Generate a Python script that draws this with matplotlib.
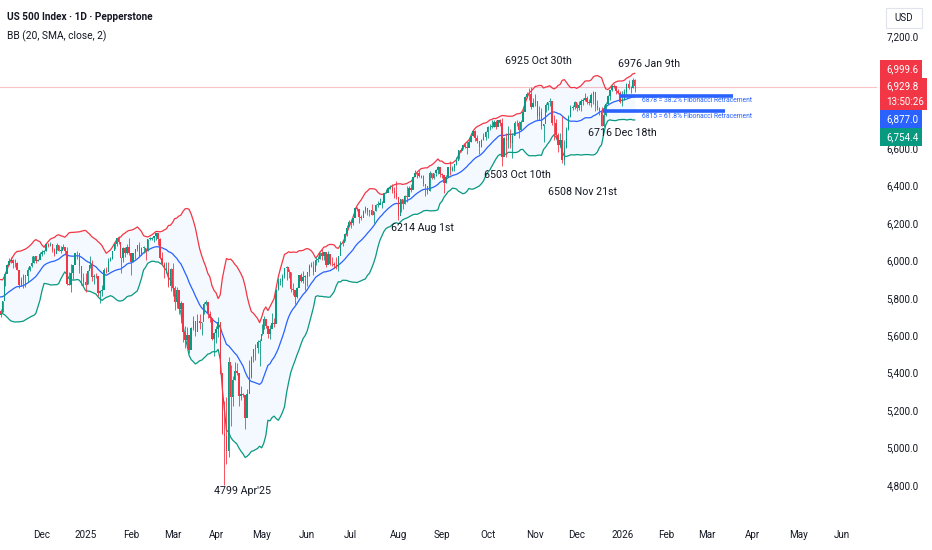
import matplotlib
matplotlib.use("Agg")
import matplotlib.pyplot as plt
from matplotlib.patches import Rectangle
import numpy as np
import pandas as pd

# closes before the first visible bar, only used to warm up the 20 day bands
warmup_close = [5696, 5751, 5792, 5780, 5815, 5859, 5815, 5842, 5841, 5864,
                5853, 5851, 5797, 5809, 5808, 5823, 5832, 5813, 5705, 5729]

# daily bars as (high, low, close), one list per month
nov24 = [(5741, 5696, 5712), (5783, 5723, 5782), (5936, 5864, 5929), (5983, 5935, 5973), (6012, 5976, 5996),
         (6018, 5986, 6001), (6009, 5960, 5984), (6009, 5966, 5985), (5993, 5946, 5949), (5929, 5854, 5870),
         (5909, 5865, 5894), (5925, 5850, 5917), (5921, 5860, 5917), (5965, 5885, 5949), (5972, 5942, 5969),
         (6021, 5963, 5987), (6025, 5985, 6021), (6020, 5984, 5999), (6010, 5995, 6003), (6044, 6008, 6032)]
dec24 = [(6053, 6022, 6047), (6055, 6033, 6050), (6087, 6049, 6087), (6093, 6072, 6075), (6100, 6076, 6090),
         (6089, 6045, 6053), (6066, 6024, 6034), (6092, 6053, 6084), (6080, 6050, 6051), (6079, 6038, 6051),
         (6085, 6059, 6074), (6057, 6036, 6051), (6071, 5867, 5872), (5936, 5866, 5867), (5982, 5832, 5931),
         (5978, 5903, 5974), (6040, 5983, 6040), (6049, 6007, 6037), (6006, 5932, 5971),
         (5941, 5869, 5907), (5930, 5865, 5882)]
jan25 = [(5935, 5829, 5869), (5950, 5876, 5942),
         (6021, 5960, 5975), (6000, 5890, 5909), (5927, 5874, 5918), (5930, 5905, 5915), (5900, 5809, 5827),
         (5839, 5773, 5836), (5871, 5807, 5843), (5960, 5880, 5950), (5965, 5930, 5937), (6014, 5978, 5997),
         (6020, 5995, 6010), (6051, 6007, 6049), (6100, 6062, 6086), (6119, 6075, 6119), (6128, 6088, 6101),
         (6018, 5932, 6012), (6070, 5994, 6068), (6074, 6019, 6039), (6086, 6036, 6071), (6120, 6030, 6040)]
feb25 = [(6022, 5923, 5994), (6042, 5990, 6038), (6062, 6007, 6061), (6084, 6050, 6083), (6101, 6020, 6026),
         (6073, 6045, 6066), (6076, 6042, 6068), (6064, 6003, 6052), (6116, 6051, 6115), (6127, 6107, 6115),
         (6125, 6110, 6120), (6129, 6100, 6129), (6147, 6111, 6144), (6134, 6084, 6117), (6119, 6008, 6013),
         (6044, 5977, 5983), (5993, 5908, 5955), (5993, 5932, 5956), (5994, 5858, 5861), (5959, 5837, 5955)]
mar25 = [(5987, 5809, 5850), (5865, 5733, 5778), (5860, 5743, 5843), (5812, 5711, 5739), (5783, 5667, 5770),
         (5706, 5565, 5615), (5649, 5529, 5572), (5642, 5546, 5599), (5597, 5505, 5522), (5645, 5546, 5639),
         (5703, 5626, 5675), (5660, 5598, 5615), (5715, 5622, 5675), (5712, 5633, 5663), (5670, 5603, 5668),
         (5775, 5712, 5768), (5787, 5764, 5777), (5777, 5694, 5712), (5732, 5670, 5693), (5685, 5572, 5581),
         (5615, 5488, 5612)]
apr25 = [(5650, 5558, 5633), (5695, 5590, 5671), (5501, 5392, 5397), (5292, 5069, 5074),
         (5246, 4799, 5062), (5268, 4910, 4983), (5481, 4950, 5457), (5443, 5115, 5268), (5381, 5221, 5363),
         (5459, 5358, 5406), (5450, 5387, 5397), (5368, 5220, 5276), (5329, 5255, 5283), (5290, 5270, 5280),
         (5233, 5101, 5158), (5310, 5207, 5288), (5469, 5356, 5376), (5489, 5371, 5485), (5528, 5455, 5525),
         (5554, 5468, 5529), (5572, 5506, 5561), (5581, 5434, 5569)]
may25 = [(5659, 5599, 5604), (5700, 5631, 5686),
         (5676, 5640, 5650), (5649, 5586, 5607), (5654, 5578, 5631), (5720, 5637, 5664), (5691, 5642, 5660),
         (5845, 5775, 5844), (5906, 5843, 5886), (5906, 5869, 5892), (5925, 5859, 5917), (5958, 5907, 5958),
         (5969, 5895, 5964), (5953, 5907, 5940), (5939, 5830, 5845), (5878, 5817, 5842), (5829, 5767, 5802),
         (5860, 5800, 5850), (5922, 5859, 5922), (5930, 5886, 5889), (5944, 5880, 5912), (5920, 5843, 5912)]
jun25 = [(5937, 5862, 5936), (5982, 5919, 5970), (5990, 5966, 5971), (5999, 5921, 5939), (6016, 5978, 6000),
         (6022, 5994, 6006), (6043, 6006, 6039), (6059, 6004, 6022), (6045, 6003, 6045), (6026, 5963, 5977),
         (6051, 6003, 6033), (6024, 5975, 5982), (6018, 5971, 5981), (5990, 5960, 5975), (6018, 5953, 5967),
         (6026, 5943, 6025), (6102, 6060, 6092), (6109, 6079, 6092), (6146, 6103, 6141), (6187, 6132, 6173),
         (6215, 6185, 6205)]
jul25 = [(6211, 6174, 6198), (6228, 6187, 6227), (6285, 6242, 6279), (6285, 6265, 6275),
         (6262, 6202, 6230), (6243, 6214, 6226), (6269, 6230, 6263), (6290, 6251, 6280), (6270, 6241, 6260),
         (6272, 6237, 6269), (6303, 6242, 6244), (6266, 6201, 6264), (6303, 6266, 6297), (6315, 6285, 6297),
         (6336, 6305, 6306), (6317, 6281, 6309), (6360, 6317, 6359), (6381, 6360, 6363), (6390, 6364, 6389),
         (6401, 6380, 6390), (6409, 6363, 6371), (6390, 6333, 6362), (6427, 6327, 6339)]
aug25 = [(6288, 6214, 6238),
         (6330, 6261, 6330), (6330, 6277, 6299), (6352, 6302, 6345), (6396, 6313, 6340), (6396, 6345, 6389),
         (6409, 6365, 6374), (6446, 6386, 6446), (6481, 6451, 6466), (6473, 6441, 6469), (6481, 6445, 6450),
         (6459, 6438, 6449), (6456, 6399, 6411), (6408, 6343, 6396), (6393, 6353, 6370), (6478, 6369, 6467),
         (6466, 6437, 6440), (6468, 6433, 6466), (6487, 6453, 6481), (6503, 6464, 6502), (6498, 6445, 6460)]
sep25 = [(6470, 6440, 6455), (6418, 6361, 6416), (6457, 6416, 6448), (6502, 6444, 6502), (6533, 6457, 6482),
         (6505, 6476, 6495), (6513, 6478, 6513), (6555, 6508, 6532), (6588, 6540, 6588), (6601, 6578, 6584),
         (6619, 6596, 6615), (6627, 6600, 6607), (6639, 6571, 6600), (6656, 6615, 6632), (6672, 6635, 6664),
         (6698, 6665, 6694), (6698, 6641, 6656), (6670, 6627, 6638), (6620, 6570, 6605), (6650, 6604, 6644),
         (6680, 6643, 6661), (6690, 6642, 6688)]
oct25 = [(6718, 6656, 6711), (6729, 6696, 6715), (6750, 6706, 6716),
         (6749, 6715, 6740), (6749, 6700, 6714), (6753, 6717, 6753), (6756, 6720, 6735), (6764, 6503, 6553),
         (6660, 6570, 6654), (6680, 6552, 6644), (6718, 6602, 6671), (6703, 6600, 6630), (6680, 6550, 6664),
         (6744, 6670, 6736), (6752, 6718, 6735), (6744, 6654, 6699), (6752, 6690, 6738), (6808, 6760, 6792),
         (6878, 6835, 6875), (6900, 6870, 6891), (6920, 6856, 6890), (6925, 6808, 6822), (6870, 6820, 6840)]
nov25 = [(6890, 6823, 6852), (6804, 6750, 6771), (6828, 6749, 6796), (6813, 6705, 6720), (6731, 6631, 6728),
         (6842, 6795, 6832), (6848, 6802, 6846), (6870, 6828, 6851), (6843, 6725, 6737), (6775, 6646, 6734),
         (6758, 6657, 6672), (6683, 6582, 6617), (6680, 6606, 6642), (6771, 6522, 6538), (6643, 6508, 6603),
         (6713, 6603, 6705), (6776, 6697, 6766), (6829, 6767, 6813), (6830, 6805, 6820), (6853, 6812, 6849)]
dec25 = [(6843, 6800, 6813), (6851, 6806, 6829), (6862, 6800, 6850), (6868, 6833, 6857), (6895, 6855, 6870),
         (6880, 6835, 6846), (6865, 6830, 6840), (6895, 6818, 6887), (6905, 6835, 6901), (6900, 6801, 6827),
         (6860, 6803, 6816), (6820, 6775, 6800), (6818, 6720, 6721), (6830, 6716, 6775), (6845, 6770, 6835),
         (6883, 6850, 6878), (6912, 6860, 6910), (6937, 6905, 6932), (6945, 6920, 6930),
         (6925, 6890, 6905), (6915, 6890, 6896), (6905, 6840, 6845)]
jan26 = [(6905, 6825, 6858),
         (6915, 6860, 6902), (6950, 6890, 6944), (6965, 6915, 6921), (6935, 6895, 6921), (6976, 6920, 6966),
         (6970, 6900, 6930)]

closed_days = ["2024-12-25", "2025-01-01", "2025-12-25", "2026-01-01"]

# values shown in the price scale badges
last_price = 6929.8
bb_upper_last = 6999.6
bb_basis_last = 6877.0
bb_lower_last = 6754.4
countdown = "13:50:26"

fib_levels = [6878, 6798]
fib_notes = ["6878 = 38.2% Fibonacci Retracement", "6815 = 61.8% Fibonacci Retracement"]

notes = ["6925 Oct 30th", "6976 Jan 9th", "6503 Oct 10th", "6508 Nov 21st",
         "6716 Dec 18th", "6214 Aug 1st", "4799 Apr'25"]

GREEN = "#089981"
RED = "#f23645"
BLUE = "#2962ff"
INK = "#131722"

plt.rcParams["font.family"] = ["Roboto", "DejaVu Sans"]

bars = nov24 + dec24 + jan25 + feb25 + mar25 + apr25 + may25 + jun25 + jul25 + aug25 + sep25 + oct25 + nov25 + dec25 + jan26
high = np.array([b[0] for b in bars], float)
low = np.array([b[1] for b in bars], float)
close = np.array([b[2] for b in bars], float)
n = len(bars)
x = np.arange(n)

all_close = np.array(warmup_close + list(close), float)
# cash index: each bar opens at the previous close
opens = all_close[len(warmup_close) - 1:-1]

s = pd.Series(all_close)
basis = s.rolling(20).mean().values
dev = s.rolling(20).std(ddof=0).values
upper = basis + 2 * dev
lower = basis - 2 * dev
x_all = np.arange(-len(warmup_close), n)
keep = x_all >= -1

dates = pd.bdate_range("2024-11-04", "2026-06-30")
dates = dates[~dates.isin(pd.to_datetime(closed_days))]
tick_pos, tick_lab = [], []
for i in range(1, len(dates)):
    if dates[i].month != dates[i - 1].month:
        tick_pos.append(i)
        tick_lab.append(str(dates[i].year) if dates[i].month == 1 else dates[i].strftime("%b"))

W, H = 932, 550
fig = plt.figure(figsize=(W / 100, H / 100), dpi=100)
ax = fig.add_axes([0, 28 / H, 877 / W, 522 / H])
ax.set_xlim(-0.27, 422.9)
ax.set_ylim(4601, 7392.5)

ax.fill_between(x_all[keep], lower[keep], upper[keep], color="#2196f3", alpha=0.05, lw=0, zorder=1)
ax.plot(x_all[keep], upper[keep], color=RED, lw=0.9, zorder=2)
ax.plot(x_all[keep], basis[keep], color=BLUE, lw=0.9, zorder=2)
ax.plot(x_all[keep], lower[keep], color=GREEN, lw=0.9, zorder=2)

col = np.where(close >= opens, GREEN, RED)
body = close - opens
body = np.where(np.abs(body) < 3, np.where(body >= 0, 3, -3), body)
ax.vlines(x, low, high, colors=col, lw=0.6, zorder=3)
ax.bar(x, body, bottom=opens, width=0.7, color=col, lw=0, zorder=4)

ax.axhline(last_price, color=RED, lw=0.8, alpha=0.3, zorder=1)

# fibonacci lines drawn on the chart
ax.hlines(fib_levels[0], 298.9, 353.4, color=BLUE, lw=2.6, zorder=5)
ax.hlines(fib_levels[1], 290.7, 349.6, color=BLUE, lw=2.6, zorder=5)
ax.text(309.5, fib_levels[0] - 25, fib_notes[0], color=BLUE, fontsize=4.9, va="center", ha="left", zorder=6)
ax.text(309.5, fib_levels[1] - 30, fib_notes[1], color=BLUE, fontsize=4.9, va="center", ha="left", zorder=6)

note_xy = [(259.3, 7067), (312.9, 7051), (249.2, 6455), (281.0, 6365),
           (299.8, 6679), (203.8, 6173), (116.5, 4769)]
for t, (nx, ny) in zip(notes, note_xy):
    ax.text(nx, ny, t, color=INK, fontsize=7.7, ha="center", va="center", zorder=6)

yt = np.arange(4800, 7201, 200)
# 7,000 and 6,800 sit under the badges on the price scale
ylab = ["" if v in (7000, 6800) else f"{v:,.1f}" for v in yt]
ax.set_xticks(tick_pos)
ax.set_xticklabels(tick_lab)
ax.yaxis.tick_right()
ax.set_yticks(yt)
ax.set_yticklabels(ylab)
ax.tick_params(axis="x", length=0, pad=6, labelsize=7.1, labelcolor=INK)
ax.tick_params(axis="y", length=0, pad=7, labelsize=7.1, labelcolor=INK)
for sp in ax.spines.values():
    sp.set_visible(False)

fig.text(7 / W, 1 - 17 / H, "US 500 Index · 1D · Pepperstone", fontsize=7.2, weight="bold",
         color=INK, va="center", ha="left")
fig.text(7 / W, 1 - 36 / H, "BB (20, SMA, close, 2)", fontsize=7.4, color=INK, va="center", ha="left")


def badge(x0, y0, x1, y1, color, lines):
    fig.add_artist(Rectangle((x0 / W, 1 - y1 / H), (x1 - x0) / W, (y1 - y0) / H,
                             transform=fig.transFigure, color=color, lw=0, zorder=10))
    step = (y1 - y0) / len(lines)
    for j, t in enumerate(lines):
        fig.text((x0 + 6) / W, 1 - (y0 + step * (j + 0.5)) / H, t, color="white",
                 fontsize=7.1, va="center", ha="left", zorder=11)


badge(880, 60, 922, 78, RED, [f"{bb_upper_last:,.1f}"])
badge(880, 78, 927, 110, RED, [f"{last_price:,.1f}", countdown])
badge(880, 110, 922, 128, BLUE, [f"{bb_basis_last:,.1f}"])
badge(880, 128, 922, 146, GREEN, [f"{bb_lower_last:,.1f}"])

fig.add_artist(Rectangle((886 / W, 1 - 28 / H), 36 / W, 20 / H, transform=fig.transFigure,
                         facecolor="white", edgecolor="#e0e3eb", lw=0.8, zorder=10))
fig.text(904 / W, 1 - 18 / H, "USD", fontsize=7.1, color=INK, ha="center", va="center", zorder=11)

fig.savefig("out.png", dpi=100, facecolor="white")
